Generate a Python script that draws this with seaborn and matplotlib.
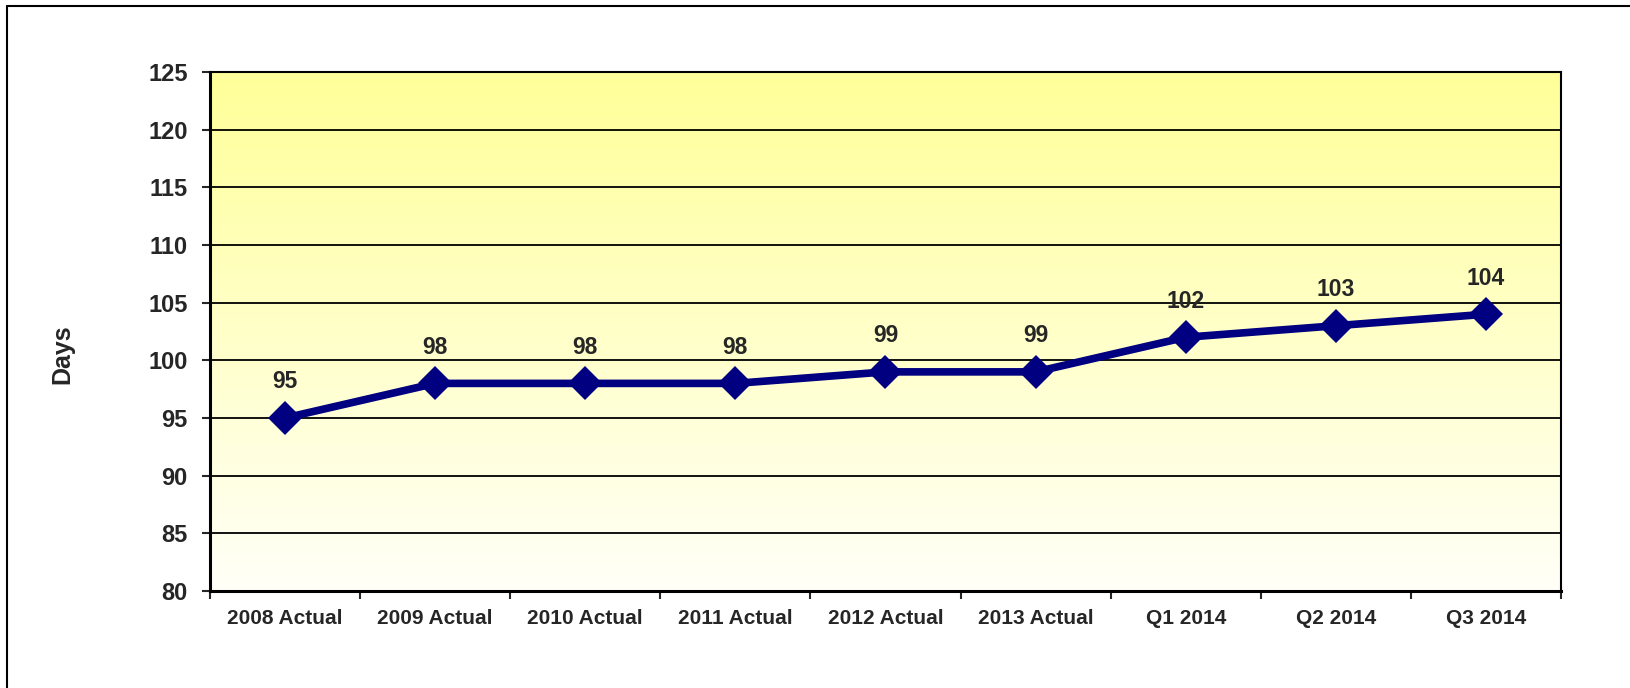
import pandas as pd
import matplotlib
matplotlib.use("Agg")
import matplotlib.pyplot as plt
from matplotlib.lines import Line2D
import seaborn as sns
import numpy as np

# chart data
categories = ["2008 Actual", "2009 Actual", "2010 Actual", "2011 Actual",
              "2012 Actual", "2013 Actual", "Q1 2014", "Q2 2014", "Q3 2014"]
days = [95, 98, 98, 98, 99, 99, 102, 103, 104]
y_ticks = [80, 85, 90, 95, 100, 105, 110, 115, 120, 125]

df = pd.DataFrame({"Period": categories, "Days": days})

sns.set_style("white")
plt.rcParams['font.family'] = ['Liberation Sans', 'DejaVu Sans']

fig = plt.figure(figsize=(16.31, 6.88), dpi=100)
ax = fig.add_axes([210 / 1631, 97 / 688, 1351 / 1631, 519 / 688])

# yellow-to-white gradient plot background
top = np.array([255, 255, 153]) / 255
bottom = np.array([255, 255, 248]) / 255
t = np.linspace(0, 1, 256)[:, None]
grad = (top * (1 - t) + bottom * t)[:, None, :]
ax.imshow(grad, aspect='auto', extent=[-0.5, len(categories) - 0.5, 80, 125],
          zorder=0, interpolation='bilinear')

# horizontal gridlines
for yv in y_ticks:
    ax.axhline(yv, color='black', lw=1.3, zorder=1)

sns.lineplot(data=df, x="Period", y="Days", ax=ax, color="#000080",
             linewidth=5.5, marker='D', markersize=17, markeredgewidth=0,
             zorder=3, sort=False)

for i, v in enumerate(days):
    ax.annotate(str(v), (i, v), xytext=(0, 26), textcoords='offset points',
                ha='center', va='center', fontsize=16.5, fontweight='bold',
                zorder=4)

ax.set_xlim(-0.5, len(categories) - 0.5)
ax.set_ylim(80, 125)
ax.set_yticks(y_ticks)
ax.set_yticklabels([str(v) for v in y_ticks], fontsize=17, fontweight='bold')
ax.set_xticks(range(len(categories)))
ax.set_xticklabels(categories, fontsize=15, fontweight='bold')
ax.set_xticks(np.arange(-0.5, len(categories), 1.0), minor=True)
ax.tick_params(axis='x', which='major', length=0, pad=13)
ax.tick_params(axis='x', which='minor', length=6, width=1.5, direction='out',
               bottom=True)
ax.tick_params(axis='y', length=6, width=1.5, direction='out', left=True,
               pad=10)
ax.set_xlabel("")
ax.set_ylabel("Days", fontsize=18, fontweight='bold')
ax.yaxis.set_label_coords(-0.1007, 0.457)

for side in ['left', 'bottom']:
    ax.spines[side].set_linewidth(2.2)
    ax.spines[side].set_color('black')
for side in ['top', 'right']:
    ax.spines[side].set_linewidth(1.5)
    ax.spines[side].set_color('black')
    ax.spines[side].set_visible(True)

# outer chart border (left and top only are visible)
fig.add_artist(Line2D([7 / 1631, 7 / 1631], [0, 1 - 6 / 688],
                      transform=fig.transFigure, color='black', lw=1.5))
fig.add_artist(Line2D([7 / 1631, 1], [1 - 6 / 688, 1 - 6 / 688],
                      transform=fig.transFigure, color='black', lw=1.5))

fig.savefig("out.png", dpi=100)
